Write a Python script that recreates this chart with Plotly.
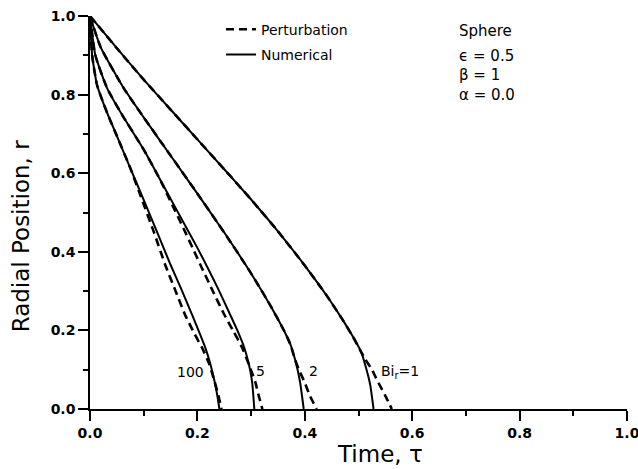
import plotly.graph_objects as go

# ---- data ----
# Numerical solutions (solid)
num100_t = [0, 0.004, 0.013, 0.03, 0.05, 0.075, 0.1, 0.125, 0.15, 0.17, 0.19, 0.205, 0.215, 0.224, 0.232, 0.237, 0.241]
num100_r = [1, 0.90, 0.825, 0.76, 0.695, 0.613, 0.532, 0.45, 0.367, 0.305, 0.24, 0.19, 0.155, 0.115, 0.07, 0.035, 0]

num5_t = [0, 0.01, 0.032, 0.06, 0.1, 0.13, 0.156, 0.18, 0.2, 0.22, 0.24, 0.26, 0.275, 0.287, 0.296, 0.302, 0.306]
num5_r = [1, 0.90, 0.816, 0.748, 0.66, 0.585, 0.52, 0.46, 0.41, 0.357, 0.302, 0.243, 0.198, 0.157, 0.113, 0.068, 0]

num2_t = [0, 0.02, 0.063, 0.1, 0.15, 0.2, 0.25, 0.3, 0.336, 0.36, 0.373, 0.383, 0.391, 0.398]
num2_r = [1, 0.92, 0.816, 0.742, 0.645, 0.548, 0.449, 0.345, 0.263, 0.203, 0.165, 0.12, 0.07, 0]

num1_t = [0, 0.05, 0.1, 0.15, 0.2, 0.25, 0.3, 0.35, 0.4, 0.44, 0.47, 0.49, 0.505, 0.515, 0.522, 0.528]
num1_r = [1, 0.918, 0.838, 0.762, 0.686, 0.61, 0.533, 0.452, 0.365, 0.29, 0.228, 0.183, 0.145, 0.10, 0.06, 0]

# Perturbation solutions (dashed)
pert100_t = [0, 0.004, 0.013, 0.03, 0.05, 0.075, 0.097, 0.119, 0.14, 0.158, 0.177, 0.195, 0.209, 0.222, 0.232, 0.239, 0.245]
pert100_r = [1, 0.90, 0.825, 0.76, 0.695, 0.613, 0.532, 0.45, 0.367, 0.305, 0.24, 0.19, 0.155, 0.115, 0.07, 0.035, 0]

pert5_t = [0, 0.01, 0.032, 0.06, 0.1, 0.13, 0.153, 0.174, 0.191, 0.209, 0.228, 0.249, 0.267, 0.283, 0.296, 0.308, 0.314, 0.321]
pert5_r = [1, 0.90, 0.816, 0.748, 0.66, 0.585, 0.52, 0.46, 0.41, 0.357, 0.302, 0.243, 0.198, 0.157, 0.113, 0.068, 0.035, 0]

pert2_t = [0, 0.02, 0.063, 0.1, 0.15, 0.2, 0.25, 0.3, 0.336, 0.36, 0.373, 0.382, 0.389, 0.399, 0.41, 0.422]
pert2_r = [1, 0.92, 0.816, 0.742, 0.645, 0.548, 0.449, 0.345, 0.263, 0.203, 0.165, 0.125, 0.10, 0.07, 0.032, 0]

pert1_t = [0, 0.05, 0.1, 0.15, 0.2, 0.25, 0.3, 0.35, 0.4, 0.44, 0.47, 0.49, 0.503, 0.512, 0.525, 0.537, 0.551, 0.562]
pert1_r = [1, 0.918, 0.838, 0.762, 0.686, 0.61, 0.533, 0.452, 0.365, 0.29, 0.228, 0.183, 0.15, 0.128, 0.10, 0.067, 0.031, 0]

curve_labels = ["100", "5", "2", "Bi<sub>r</sub>=1"]
label_t = [0.188, 0.318, 0.416, 0.578]
label_r = [0.095, 0.097, 0.097, 0.095]

param_lines = ["Sphere", "ϵ = 0.5", "β = 1", "α = 0.0"]
param_r = [0.962, 0.898, 0.85, 0.80]
param_t = 0.684

x_ticks = [0.0, 0.2, 0.4, 0.6, 0.8, 1.0]
y_ticks = [0.0, 0.2, 0.4, 0.6, 0.8, 1.0]

FONT = "DejaVu Sans"
fig = go.Figure()

pert = [(pert100_t, pert100_r), (pert5_t, pert5_r), (pert2_t, pert2_r), (pert1_t, pert1_r)]
num = [(num100_t, num100_r), (num5_t, num5_r), (num2_t, num2_r), (num1_t, num1_r)]

for i, (t, r) in enumerate(pert):
    fig.add_trace(go.Scatter(
        x=t, y=r, mode="lines", name="Perturbation",
        line=dict(color="black", width=2.6, dash="8px,5px", shape="spline", smoothing=0.5),
        showlegend=(i == 0), legendgroup="p"))
for i, (t, r) in enumerate(num):
    fig.add_trace(go.Scatter(
        x=t, y=r, mode="lines", name="Numerical",
        line=dict(color="black", width=2, shape="spline", smoothing=0.5),
        showlegend=(i == 0), legendgroup="n"))

for txt, x, y in zip(curve_labels, label_t, label_r):
    fig.add_annotation(x=x, y=y, text=txt, showarrow=False, xanchor="center", yanchor="middle",
                       font=dict(family=FONT, size=14, color="black"))

for txt, y in zip(param_lines, param_r):
    fig.add_annotation(x=param_t, y=y, text=txt, showarrow=False, xanchor="left", yanchor="middle",
                       font=dict(family=FONT, size=15, color="black"))

fig.add_annotation(x=0.54, y=-0.115, xref="paper", yref="paper", text="Time, τ", showarrow=False,
                   xanchor="center", yanchor="middle", font=dict(family=FONT, size=23, color="black"))
fig.add_annotation(x=-0.128, y=0.44, xref="paper", yref="paper", text="Radial Position, r", showarrow=False,
                   textangle=-90, xanchor="center", yanchor="middle", font=dict(family=FONT, size=23, color="black"))

axis_common = dict(range=[0, 1], showline=True, linecolor="black", linewidth=1.5, showgrid=False,
                   zeroline=False, ticks="outside", ticklen=10, tickwidth=1.5, tickcolor="black",
                   tickformat=".1f", ticklabeloverflow="allow", automargin=False,
                   tickfont=dict(family=FONT, size=14, color="black", weight="bold"),
                   minor=dict(dtick=0.1, ticks="outside", ticklen=5, tickwidth=1.5, tickcolor="black", showgrid=False))

fig.update_xaxes(tickvals=x_ticks, **axis_common)
fig.update_yaxes(tickvals=y_ticks, **axis_common)

fig.update_layout(
    width=638, height=469,
    margin=dict(l=90, r=11, t=16, b=60),
    plot_bgcolor="white", paper_bgcolor="white",
    legend=dict(x=0.244, y=1.006, xanchor="left", yanchor="top", bgcolor="rgba(0,0,0,0)",
                font=dict(family=FONT, size=14, color="black"), tracegroupgap=4,
                itemwidth=30),
)

fig.write_html("out.html")
